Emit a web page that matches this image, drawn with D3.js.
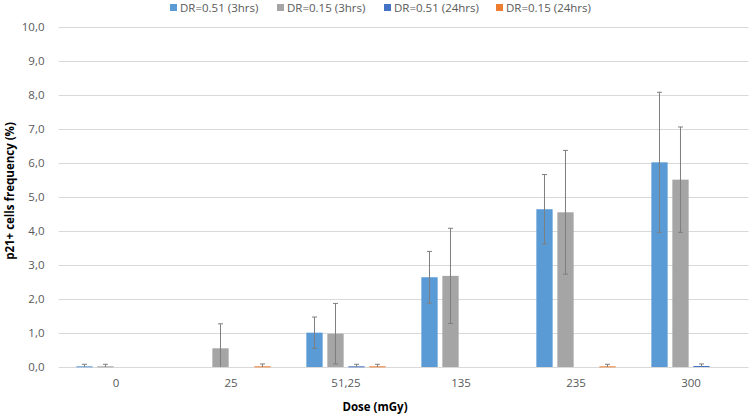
<!DOCTYPE html>
<html>
<head>
<meta charset="utf-8">
<script src="https://cdn.jsdelivr.net/npm/d3@7/dist/d3.min.js"></script>
<style>
    body { margin: 0; background: #fff; }
    text { font-family: "Open Sans", Lato, sans-serif; }
</style>
</head>
<body>
<svg id="chart" width="749" height="418"></svg>
<script>
// doses on the x axis
var categories = ["0", "25", "51,25", "135", "235", "300"];
var seriesNames = ["DR=0.51 (3hrs)", "DR=0.15 (3hrs)", "DR=0.51 (24hrs)", "DR=0.15 (24hrs)"];
var seriesColors = ["#5b9bd5", "#a5a5a5", "#4472c4", "#ed7d31"];

// mean values (%), null = not measured
var dr051_3h = [0.02, null, 1.01, 2.64, 4.64, 6.02];
var dr015_3h = [0.02, 0.55, 0.98, 2.68, 4.55, 5.51];
var dr051_24h = [null, null, 0.02, null, null, 0.03];
var dr015_24h = [null, 0.02, 0.02, null, 0.02, null];

// error bars (+/-)
var dr051_3h_err = [0.06, null, 0.46, 0.76, 1.02, 2.06];
var dr015_3h_err = [0.06, 0.72, 0.89, 1.40, 1.82, 1.55];
var dr051_24h_err = [null, null, 0.06, null, null, 0.06];
var dr015_24h_err = [null, 0.07, 0.06, null, 0.06, null];

var yTicks = [0, 1, 2, 3, 4, 5, 6, 7, 8, 9, 10];

var values = [dr051_3h, dr015_3h, dr051_24h, dr015_24h];
var errors = [dr051_3h_err, dr015_3h_err, dr051_24h_err, dr015_24h_err];

var svg = d3.select("#chart");
var plotLeft = 58.5, plotRight = 748.5, plotTop = 27, plotBottom = 367;

var x0 = d3.scaleBand().domain(categories).range([plotLeft, plotRight]);
var groupW = 79.3;
var x1 = d3.scaleBand().domain(d3.range(4))
    .range([(x0.bandwidth() - groupW) / 2, (x0.bandwidth() + groupW) / 2])
    .paddingInner(0.224);
var y = d3.scaleLinear().domain([0, 10]).range([plotBottom, plotTop]);

// gridlines
svg.append("g").selectAll("line")
    .data(yTicks).enter()
    .append("line")
    .attr("x1", plotLeft).attr("x2", plotRight)
    .attr("y1", d => Math.round(y(d)) + 0.5)
    .attr("y2", d => Math.round(y(d)) + 0.5)
    .attr("stroke", "#d9d9d9")
    .attr("stroke-width", 1);

// y tick labels
var yAxis = svg.append("g")
    .attr("transform", "translate(" + (plotLeft - 11) + ",0)")
    .call(d3.axisLeft(y).tickValues(yTicks).tickSize(0)
        .tickFormat(d => d3.format(".1f")(d).replace(".", ",")));
yAxis.select(".domain").remove();
yAxis.selectAll("text")
    .attr("fill", "#595959")
    .style("font-size", "11.5px")
    .style("font-family", "'Open Sans', sans-serif");

// x tick labels
var xAxis = svg.append("g")
    .attr("transform", "translate(0," + (plotBottom + 9) + ")")
    .call(d3.axisBottom(x0).tickSize(0));
xAxis.select(".domain").remove();
xAxis.selectAll("text")
    .attr("fill", "#595959")
    .style("font-size", "11.5px")
    .style("font-family", "'Open Sans', sans-serif");

// bars
var flat = [];
values.forEach(function(arr, s) {
    arr.forEach(function(v, i) {
        if (v != null) flat.push({s: s, cat: categories[i], v: v, e: errors[s][i]});
    });
});

var bars = svg.append("g").selectAll("g")
    .data(flat).enter()
    .append("g")
    .attr("transform", d => "translate(" + (x0(d.cat) + x1(d.s)) + ",0)");

bars.append("rect")
    .attr("x", 0)
    .attr("width", x1.bandwidth())
    .attr("y", d => y(d.v))
    .attr("height", d => Math.max(1, y(0) - y(d.v)))
    .attr("fill", d => seriesColors[d.s]);

// error bars
var errG = bars.filter(d => d.e != null).append("g")
    .attr("stroke", "#7f7f7f")
    .attr("stroke-width", 1);
var cx = x1.bandwidth() / 2;
errG.append("line")
    .attr("x1", cx).attr("x2", cx)
    .attr("y1", d => y(d.v + d.e))
    .attr("y2", d => y(Math.max(0, d.v - d.e)));
errG.append("line")
    .attr("x1", cx - 2.5).attr("x2", cx + 2.5)
    .attr("y1", d => y(d.v + d.e))
    .attr("y2", d => y(d.v + d.e));
errG.filter(d => d.v - d.e > 0.05).append("line")
    .attr("x1", cx - 2.5).attr("x2", cx + 2.5)
    .attr("y1", d => y(d.v - d.e))
    .attr("y2", d => y(d.v - d.e));

// legend
var legendX = [170, 277, 384, 496];
var legend = svg.append("g").selectAll("g")
    .data(seriesNames).enter()
    .append("g")
    .attr("transform", (d, i) => "translate(" + legendX[i] + ",3)");
legend.append("rect")
    .attr("width", 7).attr("height", 7)
    .attr("y", 1)
    .attr("fill", (d, i) => seriesColors[i]);
legend.append("text")
    .attr("x", 10).attr("y", 8.5)
    .attr("fill", "#595959")
    .style("font-size", "11.5px")
    .text(d => d);

// axis titles
svg.append("text")
    .attr("transform", "translate(14,191) rotate(-90)")
    .attr("text-anchor", "middle")
    .attr("fill", "#000")
    .style("font-size", "11.5px")
    .style("font-weight", "bold")
    .text("p21+ cells frequency (%)");

svg.append("text")
    .attr("x", 375).attr("y", 411)
    .attr("text-anchor", "middle")
    .attr("fill", "#000")
    .style("font-size", "11.5px")
    .style("font-weight", "bold")
    .text("Dose (mGy)");
</script>
</body>
</html>
